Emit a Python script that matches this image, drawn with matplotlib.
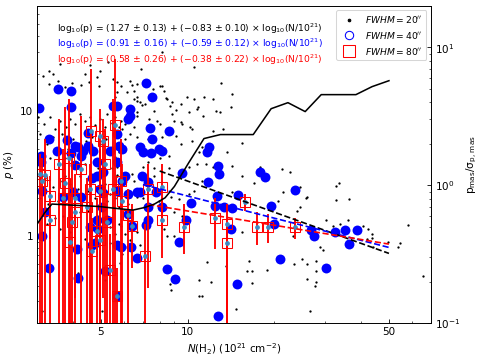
import numpy as np
import matplotlib.pyplot as plt
from matplotlib.lines import Line2D
from matplotlib.ticker import ScalarFormatter, NullFormatter

# FWHM = 20" points (N in 1e21 cm^-2, p in %)
N20 = [3.14, 3.30, 3.41, 3.30, 3.54, 3.75, 3.96, 4.25, 4.39, 4.53,
       4.84, 4.92, 4.96, 5.49, 5.58, 5.71, 5.89, 6.14, 6.49, 6.65,
       6.92, 7.09, 7.43, 7.61, 8.18, 8.18, 8.44, 8.71, 9.14, 9.51,
       10.2, 10.55, 10.8, 11.4, 12.3, 13.0, 14.3, 14.1, 13.1, 12.5,
       # mid / right part
       12.3, 13.3, 11.2, 13.7, 15.4, 11.6, 12.3, 14.3, 15.4, 17.8,
       21.3, 22.6, 11.2, 17.0, 21.5, 24.5, 26.0, 14.3, 20.6, 25.8,
       24.5, 24.0, 28.8, 15.4, 11.7, 16.4, 16.1, 16.7, 12.1, 16.7,
       18.9, 23.4, 24.9, 26.0, 28.0, 26.0, 28.0, 11.2, 13.6, 14.7,
       26.5, 32.8, 33.5, 32.8, 36.3, 30.2, 36.0, 33.8, 40.7, 42.3,
       43.7, 43.7, 44.0, 29.4, 23.2, 27.7, 53.6, 54.7, 58.4, 65.7,
       49.5, 41.9, 31.9, 28.0,
       # dense left part
       3.02, 3.17, 3.33, 3.46, 3.60, 3.79, 3.90, 4.08, 4.22, 4.39,
       4.57, 4.76, 4.96, 5.15, 5.27, 5.45, 5.62, 5.80, 6.04, 3.07,
       3.24, 3.41, 3.66, 3.84, 3.99, 4.43, 4.64, 4.96, 5.20, 5.45,
       5.58, 5.80, 6.04, 3.33, 3.54, 3.75, 4.15, 4.39, 4.57, 4.88,
       5.15, 5.45, 5.71, 3.66, 3.90, 4.15, 4.50, 4.76, 5.15, 5.36,
       5.58, 5.80, 6.04, 3.07, 3.27, 3.46, 3.60, 3.90, 4.39, 4.96,
       5.36, 5.58, 5.80, 6.04, 6.19,
       5.71, 6.29, 6.39, 6.70, 6.54, 6.70, 6.65, 6.81, 7.09, 8.05,
       8.31, 8.51, 8.85, 9.5, 9.97, 10.55, 10.9, 8.85, 7.67, 7.37,
       7.85, 8.05, 9.0, 9.6, 10.4, 11.3, 10.1, 6.65, 6.54, 5.89,
       5.94, 6.29, 6.70, 7.26, 8.18, 9.14, 9.5, 10.4, 10.98, 8.64,
       8.05, 7.26, 6.98, 7.67, 8.64, 10.1, 10.8, 9.36, 6.39, 5.71,
       3.19, 3.75, 4.22, 4.57, 3.41, 3.84, 3.54, 3.96, 4.22, 4.50,
       4.84, 5.27, 5.49, 4.57, 5.36, 3.90, 4.15, 5.15, 3.12, 5.04,
       3.24, 3.69,
       5.71, 6.54, 7.14, 7.67, 6.29, 6.70, 6.98, 7.98, 8.78, 9.36,
       10.1, 10.55, 9.0, 9.6, 5.89, 6.19, 6.65, 8.31, 8.51, 9.0,
       5.94, 5.84, 6.29, 6.81, 8.71, 8.78, 10.98, 10.98,
       3.6, 4.6, 5.3, 6.9]
p20 = [19.2, 21.0, 19.9, 16.5, 17.5, 15.5, 16.8, 16.2, 19.9, 17.1,
       18.8, 15.9, 21.0, 18.1, 13.1, 14.2, 15.9, 14.2, 12.5, 9.9,
       11.2, 17.8, 13.1, 15.1, 15.9, 29.9, 12.8, 11.0, 10.2, 8.2,
       7.5, 22.7, 10.4, 13.1, 12.5, 9.9, 13.7, 10.8, 16.8, 10.1,
       6.95, 7.2, 5.2, 4.7, 5.6, 3.8, 3.6, 3.65, 3.05, 3.6,
       3.45, 3.25, 2.77, 2.67, 2.26, 2.48, 2.06, 2.26, 1.92, 2.02,
       1.72, 1.59, 0.82, 1.08, 0.62, 0.63, 0.52, 0.52, 0.43, 0.42,
       0.53, 0.60, 0.65, 0.60, 0.52, 0.45, 0.43, 0.33, 0.57, 0.26,
       0.25, 2.52, 2.67, 1.95, 1.99, 1.35, 1.35, 1.25, 1.21, 1.14,
       1.04, 0.97, 0.82, 0.77, 0.99, 0.40, 0.81, 0.87, 1.23, 0.48,
       0.90, 0.95, 1.21, 0.63,
       9.0, 7.9, 9.0, 7.2, 8.4, 7.5, 8.7, 7.9, 9.5, 8.4,
       9.0, 7.8, 8.7, 7.5, 9.5, 8.1, 9.0, 7.5, 7.9, 6.6,
       5.5, 6.2, 6.6, 5.0, 6.0, 5.8, 6.2, 5.5, 6.0, 5.2,
       4.3, 4.7, 6.0, 4.2, 3.8, 4.2, 3.5, 3.8, 3.15, 3.5,
       3.8, 3.5, 3.1, 2.77, 2.62, 2.39, 2.3, 2.0, 2.62, 2.18,
       2.0, 1.72, 1.51, 2.0, 1.81, 1.38, 1.14, 0.87, 0.95, 0.99,
       0.87, 1.04, 1.25, 1.04, 1.81,
       17.1, 17.5, 16.2, 16.5, 14.5, 13.1, 12.1, 11.9, 11.4, 15.9,
       14.5, 12.5, 11.9, 11.4, 13.1, 12.5, 10.8, 9.5, 10.0, 8.7,
       8.4, 7.9, 8.4, 7.9, 7.2, 9.2, 9.9, 9.2, 7.5, 8.4,
       7.2, 6.6, 6.2, 6.0, 6.2, 6.3, 5.5, 5.8, 4.7, 4.4,
       4.2, 3.9, 3.6, 3.5, 3.5, 3.6, 3.8, 3.0, 3.15, 3.6,
       2.9, 3.05, 3.0, 2.7, 2.48, 2.18, 1.92, 1.30, 1.56, 1.59,
       1.45, 1.92, 1.72, 1.04, 1.19, 1.08, 0.50, 0.44, 0.25, 0.25,
       1.25, 1.45,
       3.0, 2.77, 3.0, 3.0, 2.06, 2.06, 2.0, 1.92, 2.06, 1.99,
       2.18, 2.3, 1.56, 1.45, 1.21, 1.21, 1.08, 1.14, 1.0, 1.0,
       0.72, 0.61, 0.92, 0.84, 0.41, 0.37, 0.44, 0.33,
       24.0, 23.5, 25.0, 22.0]

# FWHM = 40" points
N40 = [3.54, 3.93, 3.05, 3.93, 5.49, 5.71, 6.29, 6.29, 7.20, 7.55,
       8.64, 7.43, 7.55, 6.81, 6.98, 7.49, 3.30, 3.10, 3.10, 3.51,
       3.81, 3.93, 4.05, 4.18, 4.32, 4.28, 4.50, 4.50, 4.68, 4.84,
       4.05, 5.36, 5.71, 5.71, 5.08, 6.92, 11.7, 11.9, 12.8, 12.9,
       6.19, 7.98, 8.18, 5.76, 5.94, 9.6, 6.04, 11.8, 17.8, 18.5,
       23.6, 15.0, 12.6, 12.4, 13.4, 14.3, 19.5, 20.0, 14.2, 26.9,
       27.4, 20.9, 14.9, 12.8, 5.94, 7.26, 5.67, 6.19, 6.65, 6.81,
       7.79, 7.26, 8.18, 10.3, 6.19, 7.26, 7.20, 6.39, 9.36, 5.67,
       5.89, 6.34, 6.70, 8.51, 9.07, 5.71, 3.12, 3.69, 3.99, 4.28,
       3.19, 4.84, 4.64, 4.96, 5.08, 5.04, 4.84, 4.88, 4.76, 4.64,
       3.12, 3.30, 4.15, 5.15, 4.57, 5.24, 4.12, 9.9, 32.6, 35.3,
       38.7, 36.3, 30.2]
p40 = [15.1, 14.6, 10.6, 10.8, 11.0, 11.0, 10.4, 9.2, 16.7, 13.0,
       6.95, 7.35, 6.0, 5.2, 4.7, 4.6, 6.0, 4.4, 3.9, 4.8,
       5.9, 4.6, 5.3, 5.2, 4.8, 4.4, 6.7, 5.3, 4.8, 3.9,
       3.7, 4.8, 6.6, 3.9, 3.25, 3.05, 4.7, 5.2, 3.65, 3.15,
       8.7, 5.0, 4.8, 5.3, 5.0, 3.2, 3.05, 2.7, 3.25, 2.95,
       2.35, 2.14, 2.1, 1.75, 1.72, 1.67, 1.75, 1.25, 1.14, 1.12,
       1.0, 0.65, 0.41, 0.23, 2.77, 2.72, 2.3, 2.18, 2.26, 2.26,
       2.26, 1.72, 1.72, 1.85, 1.51, 1.33, 1.23, 1.21, 0.9, 0.85,
       0.82, 0.82, 0.66, 0.54, 0.45, 0.33, 2.3, 2.06, 2.26, 2.06,
       1.56, 3.0, 2.9, 2.4, 2.2, 1.72, 1.33, 1.14, 0.87, 0.84,
       0.99, 0.55, 0.46, 0.52, 1.19, 1.33, 0.79, 1.33, 1.08, 1.12,
       1.12, 0.86, 0.55]

# FWHM = 80" points with asymmetric errors (lower bound 0.1 = off axis)
N80 = [3.07, 3.19, 3.12, 3.33, 3.33, 3.69, 3.75, 4.05, 3.96, 3.90,
       4.08, 4.46, 4.57, 4.61, 4.64, 4.84, 4.96, 4.96, 5.08, 4.96,
       5.15, 5.24, 5.36, 5.49, 5.58, 5.67, 5.89, 5.94, 6.19, 6.39,
       7.14, 7.26, 8.18, 8.18, 9.74, 12.4, 13.7, 13.7, 15.8, 17.4,
       19.0, 23.6, 3.87, 4.28, 3.57]
p80 = [3.15, 3.1, 2.77, 2.1, 1.35, 2.0, 2.67, 2.0, 1.30, 0.9,
       1.56, 1.72, 2.4, 6.95, 0.75, 1.1, 2.3, 6.3, 5.8, 0.92,
       3.8, 1.30, 0.53, 2.4, 7.8, 0.33, 2.77, 1.92, 1.48, 1.21,
       0.69, 2.4, 2.48, 1.33, 1.19, 1.40, 1.25, 0.88, 1.88, 1.19,
       1.19, 1.17, 4.2, 3.45, 3.8]
p80_hi = [4.55, 6.0, 4.2, 3.0, 2.2, 5.0, 10.8, 3.15, 4.2, 1.81,
          2.4, 2.9, 3.8, 21.8, 1.4, 2.0, 5.0, 10.4, 8.7, 1.67,
          7.2, 2.2, 1.04, 12.5, 26.2, 0.55, 6.0, 3.8, 2.4, 1.81,
          1.25, 3.8, 3.8, 2.0, 1.81, 2.0, 1.81, 1.25, 2.18, 1.56,
          1.51, 1.40, 12.5, 9.2, 8.7]
p80_lo = [0.1, 0.1, 0.1, 0.95, 0.1, 0.1, 0.1, 0.1, 0.1, 0.1,
          0.315, 0.1, 0.1, 0.1, 0.1, 0.1, 0.1, 0.1, 0.315, 0.1,
          0.1, 0.1, 0.1, 0.1, 0.1, 0.1, 0.1, 0.1, 0.1, 0.55,
          0.1, 0.38, 1.14, 0.66, 0.72, 0.79, 0.1, 0.1, 1.59, 0.84,
          0.87, 0.95, 0.1, 0.1, 0.1]

# running p_mas / sigma (right axis)
run_N = [3.0, 3.19, 3.38, 3.81, 4.39, 4.96, 5.60, 6.46, 7.11, 7.67, 8.35,
         9.0, 10.1, 11.4, 13.0, 16.9, 19.5, 22.3, 25.6, 29.1, 38.4, 43.7, 50.0]
run_ratio = [0.52, 0.63, 0.73, 0.72, 0.71, 0.70, 0.68, 0.66, 0.69, 0.73, 0.81,
             0.98, 1.46, 2.18, 2.33, 2.33, 3.59, 3.97, 3.42, 4.54, 4.54, 5.19, 5.73]

# fits: log10(p) = a + b log10(N)
fit_a = [1.27, 0.91, 0.58]
fit_b = [-0.83, -0.59, -0.38]
fit_lo = [8.0, 7.0, 7.3]
fit_hi = [50.0, 50.0, 50.0]
fit_colors = ['k', 'b', 'r']
fit_text = [r'log$_{10}$(p) = (1.27 ± 0.13) + (−0.83 ± 0.10) × log$_{10}$(N/10$^{21}$)',
            r'log$_{10}$(p) = (0.91 ± 0.16) + (−0.59 ± 0.12) × log$_{10}$(N/10$^{21}$)',
            r'log$_{10}$(p) = (0.58 ± 0.26) + (−0.38 ± 0.22) × log$_{10}$(N/10$^{21}$)']

fig = plt.figure(figsize=(6.4, 4.79), dpi=75)
ax = fig.add_axes([0.077, 0.100, 0.821, 0.883])

ax.plot(N20, p20, 'o', color='k', ms=2.2, mew=0, zorder=1)
ax.plot(N40, p40, 'o', color='b', ms=9.5, mew=0, zorder=2)

p80 = np.array(p80)
yerr = [p80 - np.array(p80_lo), np.array(p80_hi) - p80]
ax.errorbar(N80, p80, yerr=yerr, fmt='o', color='#3a8cc4', ms=3.5,
            ecolor='r', elinewidth=1.8, zorder=3)
ax.plot(N80, p80, 's', mfc='none', mec='r', ms=10, mew=1.0, zorder=3)

for a, b, lo, hi, c in zip(fit_a, fit_b, fit_lo, fit_hi, fit_colors):
    xx = np.array([lo, hi])
    ax.plot(xx, 10**(a + b*np.log10(xx)), '--', color=c, lw=1.6, zorder=5)

for i, (t, c) in enumerate(zip(fit_text, fit_colors)):
    ax.text(0.051, 0.93 - 0.05*i, t, color=c, fontsize=8.8,
            transform=ax.transAxes, va='center')

ax.set_xscale('log')
ax.set_yscale('log')
ax.set_xlim(3, 70)
ax.set_ylim(0.2, 70)
ax.set_xticks([5, 10, 50])
ax.xaxis.set_major_formatter(ScalarFormatter())
ax.xaxis.set_minor_formatter(NullFormatter())
ax.set_yticks([1, 10])
ax.yaxis.set_major_formatter(ScalarFormatter())
ax.yaxis.set_minor_formatter(NullFormatter())
ax.tick_params(which='both', direction='in')
ax.set_xlabel(r'$N$(H$_2$) (10$^{21}$ cm$^{-2}$)')
ax.set_ylabel(r'$p$ (%)')

ax2 = ax.twinx()
ax2.plot(run_N, run_ratio, 'k-', lw=1.5)
ax2.set_yscale('log')
ax2.set_ylim(0.1, 20)
ax2.tick_params(which='both', direction='in')
ax2.set_ylabel(r'$\mathrm{p_{mas}/\sigma_{p,\,mas}}$')

handles = [Line2D([], [], ls='', marker='o', color='k', ms=2.5),
           Line2D([], [], ls='', marker='o', color='b', mfc='none', mec='b', ms=8),
           Line2D([], [], ls='', marker='s', color='r', mfc='none', mec='r', ms=12)]
labels = [r"$FWHM = 20''$", r"$FWHM = 40''$", r"$FWHM = 80''$"]
ax2.legend(handles, labels, loc='upper right', fontsize=8.8)

fig.savefig('out.png', dpi=75)
